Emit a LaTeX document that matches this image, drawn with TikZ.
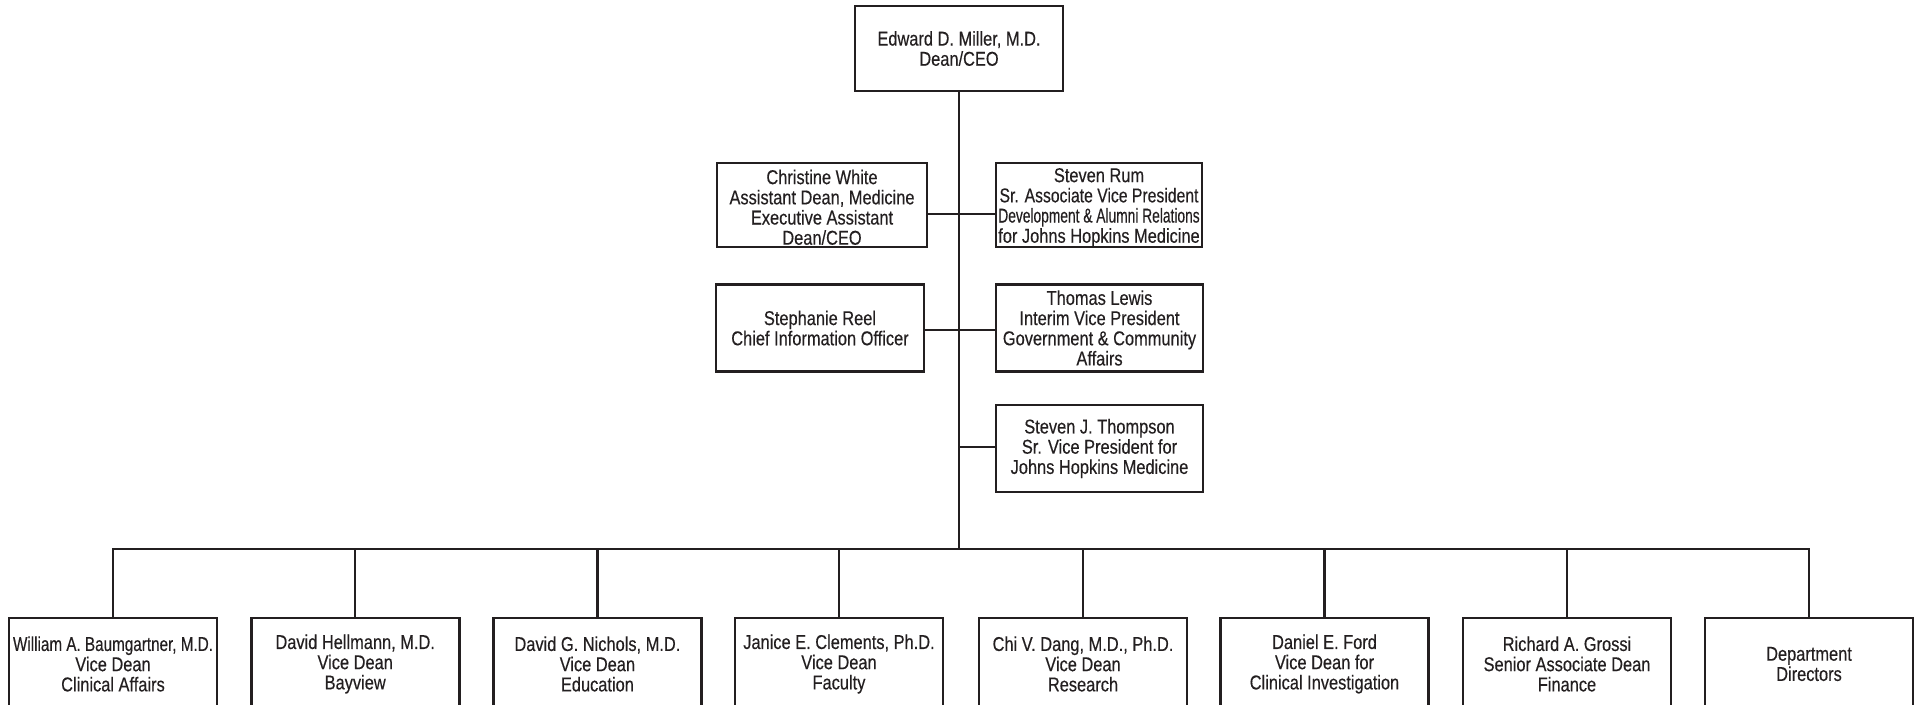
\documentclass[tikz,border=0pt]{standalone}
\usepackage{fontspec}
\usepackage{graphicx}
\setmainfont{Liberation Sans}[FakeStretch=0.82, FakeBold=0.35]
\usetikzlibrary{positioning}
\definecolor{ink}{HTML}{231F20}

\begin{document}
\begin{tikzpicture}[x=1pt, y=-1pt, line join=miter,
  box/.style={draw=ink, line width=2.7pt, rectangle, inner sep=0pt, align=center,
              text=ink, font=\fontsize{20}{20.2}\selectfont},
  staff/.style={box, minimum width=207pt, minimum height=86pt},
  vdean/.style={box, minimum width=208pt, minimum height=92pt},
  link/.style={draw=ink, line width=2.5pt}]

  \begin{scope}
  \clip (0,0) rectangle (1921,704);

  %% ════ 顶层 ════
  \node[box, minimum width=208pt, minimum height=85pt] (dean) at (959,48.5) {Edward D. Miller, M.D.\\Dean/CEO};
  \coordinate (bus) at (959,549);

  %% ════ 中层（左右两列）════
  \node[staff, minimum width=210pt, minimum height=84pt] (white) at (822,205) {\rule{0pt}{19pt}Christine White\\Assistant Dean, Medicine\\Executive Assistant\\Dean/CEO};
  \node[staff, minimum width=206pt, minimum height=84pt] (rum) at (1099,205) {\rule{0pt}{19pt}Steven Rum\\\scalebox{0.96}[1]{Sr. Associate Vice President}\\\scalebox{0.84}[1]{Development \& Alumni Relations}\\for Johns Hopkins Medicine};
  \node[staff, minimum width=208pt, minimum height=87pt] (reel) at (820,328) {Stephanie Reel\\Chief Information Officer};
  \node[staff, minimum height=87pt] (lewis) at (1099.5,328) {Thomas Lewis\\Interim Vice President\\Government \& Community\\Affairs};
  \node[staff, minimum height=87pt] (thompson) at (1099.5,448.5) {Steven J. Thompson\\Sr. Vice President for\\Johns Hopkins Medicine};

  %% ════ 底层（副院长）════
  \node[vdean] (vd1) at (113.0,664) {\scalebox{0.93}[1]{William A. Baumgartner, M.D.}\\Vice Dean\\Clinical Affairs};
  \node[vdean] (vd2) at (355.2,664) {David Hellmann, M.D.\\Vice Dean\\Bayview};
  \node[vdean] (vd3) at (597.4,664) {David G. Nichols, M.D.\\Vice Dean\\Education};
  \node[vdean] (vd4) at (839.0,664) {Janice E. Clements, Ph.D.\\Vice Dean\\Faculty};
  \node[vdean] (vd5) at (1083.0,664) {Chi V. Dang, M.D., Ph.D.\\Vice Dean\\Research};
  \node[vdean] (vd6) at (1324.5,664) {Daniel E. Ford\\Vice Dean for\\Clinical Investigation};
  \node[vdean] (vd7) at (1567.0,664) {Richard A. Grossi\\Senior Associate Dean\\Finance};
  \node[vdean] (vd8) at (1809.0,664) {Department\\Directors};

  %% ════ 连线 ════
  \draw[link] (dean.south) -- (bus);
  \draw[link] ([yshift=-9pt]white.east) -- ([yshift=-9pt]rum.west);
  \draw[link] ([yshift=-2pt]reel.east) -- ([yshift=-2pt]lewis.west);
  \draw[link] ([yshift=1.5pt]thompson.west) -- ([yshift=1.5pt]thompson.west -| bus);
  \draw[link] (vd1.north) |- (vd8.north |- bus) -- (vd8.north);
  \foreach \i in {2,...,7}
    \draw[link] (vd\i.north) -- (vd\i.north |- bus);
  \end{scope}

  % 钉死画布
  \pgfresetboundingbox
  \path[use as bounding box] (0,0) rectangle (1921,704);
\end{tikzpicture}
\end{document}
